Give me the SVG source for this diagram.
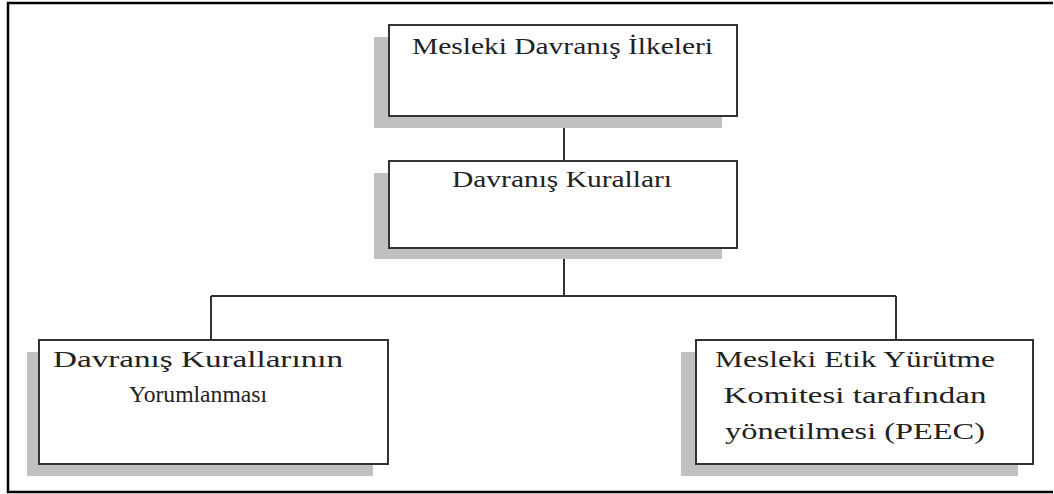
<svg xmlns="http://www.w3.org/2000/svg" width="1054" height="494" viewBox="0 0 1054 494">
  <style>
    .frame { fill: none; stroke: #000; stroke-width: 2.5; }
    .shadow { fill: #c0c0c0; stroke: none; }
    .box { fill: #fff; stroke: #333; stroke-width: 2; }
    .edge { fill: none; stroke: #333; stroke-width: 2; }
    .label { font-family: "Liberation Serif", "Times New Roman", serif; font-size: 24px; fill: #222; text-anchor: middle; }
    .small { font-size: 23.5px; }
  </style>
  <rect width="1054" height="494" fill="#fff"/>
  <!-- page frame, open on the right where it runs off the sheet -->
  <path class="frame" d="M1053,3 H8 V492 H1053"/>

  <g id="connectors">
    <line class="edge" x1="564" y1="116" x2="564" y2="161"/>
    <line class="edge" x1="564" y1="248" x2="564" y2="296"/>
    <line class="edge" x1="211" y1="296" x2="896" y2="296"/>
    <line class="edge" x1="211" y1="296" x2="211" y2="340"/>
    <line class="edge" x1="896" y1="296" x2="896" y2="340"/>
  </g>

  <g id="principles">
    <rect class="shadow" x="374" y="37" width="348" height="91"/>
    <rect class="box" x="389" y="25" width="348" height="91"/>
    <text class="label" x="562.5" y="54" textLength="301" lengthAdjust="spacingAndGlyphs">Mesleki Davranış İlkeleri</text>
  </g>

  <g id="rules">
    <rect class="shadow" x="374" y="173" width="348" height="86"/>
    <rect class="box" x="389" y="161" width="348" height="87"/>
    <text class="label" x="562" y="187" textLength="220" lengthAdjust="spacingAndGlyphs">Davranış Kuralları</text>
  </g>

  <g id="interpretation">
    <rect class="shadow" x="27" y="352" width="346" height="124"/>
    <rect class="box" x="39" y="340" width="349" height="124"/>
    <text class="label" x="198" y="367" textLength="290" lengthAdjust="spacingAndGlyphs">Davranış Kurallarının</text>
    <text class="label small" x="198" y="402" textLength="138" lengthAdjust="spacingAndGlyphs">Yorumlanması</text>
  </g>

  <g id="peec">
    <rect class="shadow" x="681" y="352" width="337" height="124"/>
    <rect class="box" x="696" y="340" width="337" height="124"/>
    <text class="label" x="855" y="367" textLength="280" lengthAdjust="spacingAndGlyphs">Mesleki Etik Yürütme</text>
    <text class="label" x="855" y="403" textLength="263" lengthAdjust="spacingAndGlyphs">Komitesi tarafından</text>
    <text class="label" x="855" y="439" textLength="260" lengthAdjust="spacingAndGlyphs">yönetilmesi (PEEC)</text>
  </g>
</svg>
